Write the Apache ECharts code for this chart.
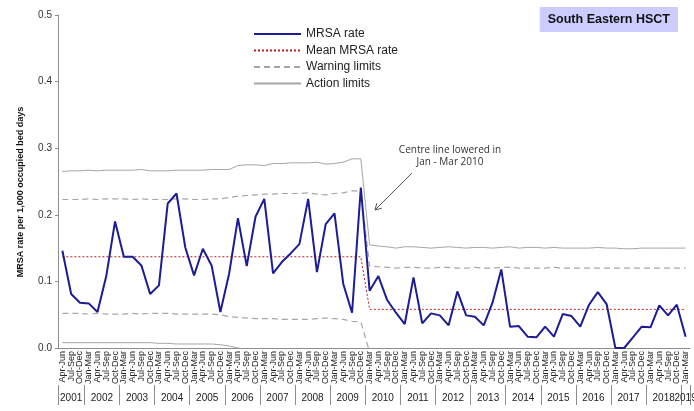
<!DOCTYPE html>
<html>
<head>
<meta charset="utf-8">
<script src="https://cdn.jsdelivr.net/npm/echarts@6/dist/echarts.min.js"></script>
<style>
  html, body { margin: 0; padding: 0; background: #fff; }
  #main { width: 694px; height: 411px; }
</style>
</head>
<body>
<div id="main"></div>
<script>
// quarter / year labels
const quarters = ['Jan-Mar', 'Apr-Jun', 'Jul-Sep', 'Oct-Dec'];
const years = ['2001', '2002', '2003', '2004', '2005', '2006', '2007', '2008', '2009', '2010',
               '2011', '2012', '2013', '2014', '2015', '2016', '2017', '2018', '2019'];
const quartersInYear = [3, 4, 4, 4, 4, 4, 4, 4, 4, 4, 4, 4, 4, 4, 4, 4, 4, 4, 1];

// MRSA rate per 1,000 occupied bed days, Apr-Jun 2001 .. Jan-Mar 2019
const mrsaRate = [
  0.146, 0.081, 0.068,
  0.067, 0.054, 0.108, 0.190,
  0.137, 0.137, 0.124, 0.081,
  0.094, 0.217, 0.232, 0.151,
  0.109, 0.149, 0.124, 0.054,
  0.112, 0.195, 0.123, 0.197,
  0.224, 0.112, 0.129, 0.142,
  0.156, 0.224, 0.114, 0.186,
  0.202, 0.096, 0.053, 0.241,
  0.086, 0.108, 0.072, 0.053,
  0.036, 0.106, 0.037, 0.052,
  0.049, 0.034, 0.085, 0.049,
  0.047, 0.034, 0.068, 0.118,
  0.032, 0.033, 0.017, 0.016,
  0.032, 0.017, 0.051, 0.048,
  0.032, 0.065, 0.084, 0.066,
  0.000, 0.000, 0.016, 0.032,
  0.031, 0.064, 0.049, 0.065,
  0.017
];
const meanRate = [
  0.137, 0.137, 0.137,
  0.137, 0.137, 0.137, 0.137,
  0.137, 0.137, 0.137, 0.137,
  0.137, 0.137, 0.137, 0.137,
  0.137, 0.137, 0.137, 0.137,
  0.137, 0.137, 0.137, 0.137,
  0.137, 0.137, 0.137, 0.137,
  0.137, 0.137, 0.137, 0.137,
  0.137, 0.137, 0.137, 0.137,
  0.058, 0.058, 0.058, 0.058,
  0.058, 0.058, 0.058, 0.058,
  0.058, 0.058, 0.058, 0.058,
  0.058, 0.058, 0.058, 0.058,
  0.058, 0.058, 0.058, 0.058,
  0.058, 0.058, 0.058, 0.058,
  0.058, 0.058, 0.058, 0.058,
  0.058, 0.058, 0.058, 0.058,
  0.058, 0.058, 0.058, 0.058,
  0.058
];
const upperAction = [
  0.265, 0.266, 0.266,
  0.267, 0.266, 0.267, 0.267,
  0.267, 0.267, 0.268, 0.266,
  0.266, 0.266, 0.267, 0.267,
  0.267, 0.267, 0.268, 0.268,
  0.268, 0.274, 0.275, 0.275,
  0.274, 0.277, 0.277, 0.278,
  0.278, 0.278, 0.279, 0.276,
  0.277, 0.279, 0.284, 0.284,
  0.155, 0.153, 0.152, 0.150,
  0.152, 0.152, 0.151, 0.150,
  0.151, 0.152, 0.151, 0.150,
  0.151, 0.151, 0.150, 0.151,
  0.152, 0.150, 0.151, 0.151,
  0.150, 0.151, 0.150, 0.150,
  0.150, 0.150, 0.151, 0.150,
  0.150, 0.149, 0.149, 0.150,
  0.150, 0.150, 0.150, 0.150,
  0.150
];
const upperWarning = [
  0.223, 0.223, 0.223,
  0.224, 0.223, 0.224, 0.224,
  0.224, 0.223, 0.224, 0.223,
  0.223, 0.223, 0.224, 0.224,
  0.223, 0.223, 0.224, 0.224,
  0.226, 0.228, 0.229, 0.230,
  0.231, 0.231, 0.232, 0.232,
  0.232, 0.233, 0.231, 0.230,
  0.232, 0.233, 0.236, 0.236,
  0.123, 0.122, 0.121, 0.120,
  0.121, 0.121, 0.120, 0.120,
  0.121, 0.121, 0.120, 0.120,
  0.121, 0.120, 0.120, 0.121,
  0.121, 0.120, 0.120, 0.120,
  0.120, 0.121, 0.120, 0.120,
  0.120, 0.120, 0.120, 0.120,
  0.120, 0.120, 0.120, 0.120,
  0.120, 0.120, 0.120, 0.120,
  0.120
];
const lowerWarning = [
  0.052, 0.052, 0.052,
  0.051, 0.052, 0.051, 0.051,
  0.051, 0.052, 0.051, 0.052,
  0.052, 0.052, 0.051, 0.051,
  0.051, 0.051, 0.051, 0.050,
  0.047, 0.046, 0.045, 0.044,
  0.044, 0.044, 0.043, 0.043,
  0.043, 0.043, 0.044, 0.045,
  0.044, 0.043, 0.040, 0.039,
  -0.006, -0.006, -0.006, -0.006,
  -0.006, -0.006, -0.006, -0.006,
  -0.006, -0.006, -0.006, -0.006,
  -0.006, -0.006, -0.006, -0.006,
  -0.006, -0.006, -0.006, -0.006,
  -0.006, -0.006, -0.006, -0.006,
  -0.006, -0.006, -0.006, -0.006,
  -0.006, -0.006, -0.006, -0.006,
  -0.006, -0.006, -0.006, -0.006,
  -0.006
];
const lowerAction = [
  0.008, 0.008, 0.008,
  0.008, 0.008, 0.008, 0.008,
  0.008, 0.008, 0.008, 0.008,
  0.007, 0.007, 0.006, 0.006,
  0.006, 0.006, 0.006, 0.005,
  0.003, 0.000, -0.002, -0.002,
  -0.003, -0.004, -0.004, -0.005,
  -0.005, -0.005, -0.006, -0.004,
  -0.005, -0.006, -0.010, -0.010,
  -0.035, -0.035, -0.035, -0.035,
  -0.035, -0.035, -0.035, -0.035,
  -0.035, -0.035, -0.035, -0.035,
  -0.035, -0.035, -0.035, -0.035,
  -0.035, -0.035, -0.035, -0.035,
  -0.035, -0.035, -0.035, -0.035,
  -0.035, -0.035, -0.035, -0.035,
  -0.035, -0.035, -0.035, -0.035,
  -0.035, -0.035, -0.035, -0.035,
  -0.035
];

// category list + year bands for the second label row
let categories = [], yearBounds = [0], yearCenters = [], yearAt = {};
years.forEach((y, i) => {
    const n = quartersInYear[i];
    const first = i === 0 ? 4 - n : 0;
    const start = categories.length;
    for (let k = 0; k < n; k++) categories.push(quarters[first + k]);
    yearBounds.push(categories.length);
    const c = (start + categories.length) / 2;
    yearCenters.push(c);
    yearAt[c] = y;
});

const font = "'Liberation Sans', Arial, sans-serif";
const gray = '#8c8c8c';

// one value axis per year-label row so that the crowded last pair is not dropped
function yearAxis(centers, withTicks) {
    return {
        type: 'value',
        min: 0,
        max: categories.length,
        position: 'bottom',
        offset: 37,
        axisLine: { show: false },
        splitLine: { show: false },
        axisTick: { show: withTicks, customValues: yearBounds, length: 20, lineStyle: { color: gray } },
        axisLabel: {
            customValues: centers,
            margin: 8,
            fontFamily: font, fontSize: 10, color: '#222',
            formatter: v => yearAt[v] || ''
        }
    };
}

let myChart = echarts.init(document.getElementById('main'));
myChart.setOption({
    animation: false,
    backgroundColor: '#fff',
    title: {
        text: 'South Eastern HSCT',
        right: 16,
        top: 7,
        padding: [6, 8, 6, 8],
        backgroundColor: '#ccccff',
        textStyle: { fontFamily: font, fontSize: 12.5, fontWeight: 'bold', color: '#111' }
    },
    legend: {
        orient: 'vertical',
        left: 248,
        top: 23,
        itemWidth: 47,
        itemHeight: 12,
        itemGap: 4.5,
        itemStyle: { opacity: 0, borderWidth: 0 },
        textStyle: { fontFamily: font, fontSize: 12, color: '#222' },
        data: ['MRSA rate', 'Mean MRSA rate', 'Warning limits', 'Action limits']
    },
    grid: { left: 58, right: 4, top: 15, bottom: 63, outerBoundsMode: 'none' },
    xAxis: [{
        type: 'category',
        data: categories,
        boundaryGap: true,
        axisLine: { lineStyle: { color: gray, width: 1 } },
        axisTick: { interval: 0, length: 37, lineStyle: { color: gray } },
        axisLabel: {
            interval: 0, rotate: 90, margin: 3,
            fontFamily: font, fontSize: 9, color: '#222'
        }
    },
    yearAxis(yearCenters.slice(0, -1), true),
    yearAxis(yearCenters.slice(-1), false)
    ],
    yAxis: {
        type: 'value',
        min: 0,
        max: 0.5,
        interval: 0.1,
        axisLine: { show: true, lineStyle: { color: gray } },
        axisTick: { show: true, length: 3, lineStyle: { color: gray } },
        splitLine: { show: false },
        axisLabel: {
            margin: 6, fontFamily: font, fontSize: 10, color: '#333',
            formatter: v => v.toFixed(1)
        }
    },
    graphic: [{
        type: 'text',
        x: 21, y: 192,
        rotation: Math.PI / 2,
        style: {
            text: 'MRSA rate per 1,000 occupied bed days',
            font: "bold 9px 'Liberation Sans', Arial, sans-serif",
            fill: '#111',
            align: 'center',
            verticalAlign: 'middle'
        }
    }, {
        type: 'text',
        x: 450, y: 156,
        style: {
            text: 'Centre line lowered in\nJan - Mar 2010',
            font: "10px 'Open Sans', 'Liberation Sans', sans-serif",
            lineHeight: 12,
            fill: '#333',
            align: 'center',
            verticalAlign: 'middle'
        }
    }, {
        type: 'line',
        shape: { x1: 412, y1: 173, x2: 375, y2: 210 },
        style: { stroke: '#555', lineWidth: 1 }
    }, {
        type: 'polyline',
        shape: { points: [[381.8, 208.2], [375, 210], [376.8, 203.2]] },
        style: { stroke: '#555', lineWidth: 1, fill: null }
    }],
    series: [{
        name: 'Action limits',
        type: 'line',
        data: upperAction,
        symbol: 'none',
        lineStyle: { color: '#a6a6a6', width: 1 },
        itemStyle: { color: '#a6a6a6' }
    }, {
        name: 'Action limits',
        type: 'line',
        data: lowerAction,
        symbol: 'none',
        lineStyle: { color: '#a6a6a6', width: 1 },
        itemStyle: { color: '#a6a6a6' }
    }, {
        name: 'Warning limits',
        type: 'line',
        data: upperWarning,
        symbol: 'none',
        lineStyle: { color: '#a6a6a6', width: 1.2, type: [6, 4] },
        itemStyle: { color: '#a6a6a6' }
    }, {
        name: 'Warning limits',
        type: 'line',
        data: lowerWarning,
        symbol: 'none',
        lineStyle: { color: '#a6a6a6', width: 1.2, type: [6, 4] },
        itemStyle: { color: '#a6a6a6' }
    }, {
        name: 'Mean MRSA rate',
        type: 'line',
        data: meanRate,
        symbol: 'none',
        lineStyle: { color: '#b22222', width: 1, type: [2, 2] },
        itemStyle: { color: '#b22222' }
    }, {
        name: 'MRSA rate',
        type: 'line',
        data: mrsaRate,
        symbol: 'none',
        z: 5,
        lineStyle: { color: '#1c1c94', width: 2 },
        itemStyle: { color: '#1c1c94' }
    }]
});
</script>
</body>
</html>
